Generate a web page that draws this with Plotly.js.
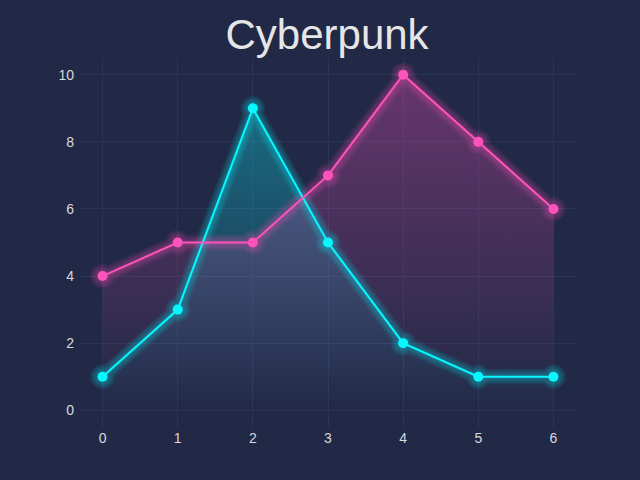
<!DOCTYPE html>
<html><head><meta charset="utf-8">
<script src="https://cdn.plot.ly/plotly-3.0.1.min.js"></script>
<style>html,body{margin:0;padding:0;background:#212946;}#chart{width:640px;height:480px;}</style>
</head><body><div id="chart"></div>
<script>
const xValues = [0, 1, 2, 3, 4, 5, 6];
const cyanValues = [1, 3, 9, 5, 2, 1, 1];
const pinkValues = [4, 5, 5, 7, 10, 8, 6];
const yTickValues = [0, 2, 4, 6, 8, 10];
const seriesColors = ['#08F7FE', '#FE53BB'];
const seriesRGB = ['8,247,254', '254,83,187'];
const series = [cyanValues, pinkValues];

const traces = [];
// gradient fills
series.forEach((ys, i) => {
  traces.push({
    x: xValues, y: ys, type: 'scatter', mode: 'none', fill: 'tozeroy',
    fillgradient: {type: 'vertical', start: 0, stop: Math.max(...ys),
      colorscale: [[0, 'rgba(' + seriesRGB[i] + ',0)'], [1, 'rgba(' + seriesRGB[i] + ',0.32)']]},
    hoverinfo: 'skip', showlegend: false
  });
});
// glow
series.forEach((ys, i) => {
  for (let k = 1; k <= 10; k++) {
    const w = 2 + 1.46 * k;
    traces.push({
      x: xValues, y: ys, type: 'scatter', mode: 'lines+markers',
      line: {color: seriesColors[i], width: w},
      marker: {color: seriesColors[i], size: 9 + w},
      opacity: 0.035, hoverinfo: 'skip', showlegend: false
    });
  }
});
// main lines
series.forEach((ys, i) => {
  traces.push({
    x: xValues, y: ys, type: 'scatter', mode: 'lines+markers',
    line: {color: seriesColors[i], width: 2},
    marker: {color: seriesColors[i], size: 10},
    showlegend: false
  });
});

const axisCommon = {
  showgrid: true, gridcolor: '#2A3459', gridwidth: 1, zeroline: false,
  showline: false, ticks: '', tickfont: {family: 'Liberation Sans, Arial, sans-serif', size: 14, color: '#D8D8DE'}
};
const layout = {
  width: 640, height: 480,
  paper_bgcolor: '#212946', plot_bgcolor: '#212946',
  margin: {l: 80, r: 64, t: 58, b: 53},
  title: {text: 'Cyberpunk', x: 0.511, xanchor: 'center', y: 0.929, yanchor: 'middle',
    font: {family: 'Liberation Sans, Arial, sans-serif', size: 42, color: '#E6E6E6'}},
  xaxis: Object.assign({}, axisCommon, {range: [-0.3, 6.3], tickmode: 'array', tickvals: xValues, ticklabelstandoff: 1}),
  yaxis: Object.assign({}, axisCommon, {range: [-0.5, 10.5], tickmode: 'array', tickvals: yTickValues, ticklabelstandoff: 5}),
  showlegend: false
};
Plotly.newPlot('chart', traces, layout, {displayModeBar: false, staticPlot: true});
</script></body></html>
